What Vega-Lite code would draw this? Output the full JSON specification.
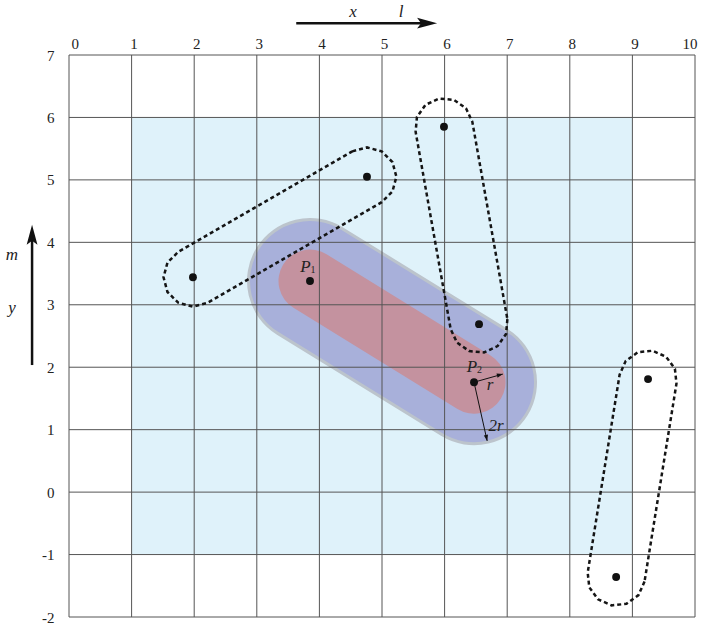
{
  "$schema": "https://vega.github.io/schema/vega-lite/v6.json",
  "width": 626,
  "height": 562,
  "autosize": {"type": "none"},
  "padding": {"left": 69, "top": 55, "right": 9, "bottom": 11},
  "background": "white",
  "config": {
    "view": {"stroke": null},
    "axis": {"ticks": false, "domain": false, "grid": false, "labelFont": "Liberation Serif", "labelFontSize": 15, "labelColor": "#222", "labelOverlap": false},
    "axisTop": {"labelPadding": 4, "labelOffset": 2, "labelFlush": true},
    "axisLeft": {"labelPadding": 15, "labelFlush": false}
  },
  "datasets": {
    "bg": [{"x1": 1, "x2": 9, "y1": -1, "y2": 6}],
    "seg": [{"x": 3.85, "y": 3.38, "i": 0}, {"x": 6.47, "y": 1.76, "i": 1}],
    "gx": [{"v": 0}, {"v": 1}, {"v": 2}, {"v": 3}, {"v": 4}, {"v": 5}, {"v": 6}, {"v": 7}, {"v": 8}, {"v": 9}, {"v": 10}],
    "gy": [{"v": -2}, {"v": -1}, {"v": 0}, {"v": 1}, {"v": 2}, {"v": 3}, {"v": 4}, {"v": 5}, {"v": 6}, {"v": 7}],
    "outline": [
      {"s": 1, "i": 0, "x": 4.525, "y": 5.457},
      {"s": 1, "i": 1, "x": 4.76, "y": 5.52},
      {"s": 1, "i": 2, "x": 4.995, "y": 5.457},
      {"s": 1, "i": 3, "x": 5.167, "y": 5.285},
      {"s": 1, "i": 4, "x": 5.23, "y": 5.05},
      {"s": 1, "i": 5, "x": 5.167, "y": 4.815},
      {"s": 1, "i": 6, "x": 4.995, "y": 4.643},
      {"s": 1, "i": 7, "x": 2.215, "y": 3.033},
      {"s": 1, "i": 8, "x": 1.98, "y": 2.97},
      {"s": 1, "i": 9, "x": 1.745, "y": 3.033},
      {"s": 1, "i": 10, "x": 1.573, "y": 3.205},
      {"s": 1, "i": 11, "x": 1.51, "y": 3.44},
      {"s": 1, "i": 12, "x": 1.573, "y": 3.675},
      {"s": 1, "i": 13, "x": 1.745, "y": 3.847},
      {"s": 1, "i": 14, "x": 4.525, "y": 5.457},
      {"s": 2, "i": 0, "x": 7.003, "y": 2.77},
      {"s": 2, "i": 1, "x": 6.982, "y": 2.533},
      {"s": 2, "i": 2, "x": 6.846, "y": 2.338},
      {"s": 2, "i": 3, "x": 6.63, "y": 2.237},
      {"s": 2, "i": 4, "x": 6.393, "y": 2.258},
      {"s": 2, "i": 5, "x": 6.198, "y": 2.394},
      {"s": 2, "i": 6, "x": 6.097, "y": 2.61},
      {"s": 2, "i": 7, "x": 5.537, "y": 5.77},
      {"s": 2, "i": 8, "x": 5.558, "y": 6.007},
      {"s": 2, "i": 9, "x": 5.694, "y": 6.202},
      {"s": 2, "i": 10, "x": 5.91, "y": 6.303},
      {"s": 2, "i": 11, "x": 6.147, "y": 6.282},
      {"s": 2, "i": 12, "x": 6.342, "y": 6.146},
      {"s": 2, "i": 13, "x": 6.443, "y": 5.93},
      {"s": 2, "i": 14, "x": 7.003, "y": 2.77},
      {"s": 3, "i": 0, "x": 9.194, "y": -1.432},
      {"s": 3, "i": 1, "x": 9.097, "y": -1.649},
      {"s": 3, "i": 2, "x": 8.905, "y": -1.789},
      {"s": 3, "i": 3, "x": 8.668, "y": -1.814},
      {"s": 3, "i": 4, "x": 8.451, "y": -1.717},
      {"s": 3, "i": 5, "x": 8.311, "y": -1.525},
      {"s": 3, "i": 6, "x": 8.286, "y": -1.288},
      {"s": 3, "i": 7, "x": 8.796, "y": 1.882},
      {"s": 3, "i": 8, "x": 8.893, "y": 2.099},
      {"s": 3, "i": 9, "x": 9.085, "y": 2.239},
      {"s": 3, "i": 10, "x": 9.322, "y": 2.264},
      {"s": 3, "i": 11, "x": 9.539, "y": 2.167},
      {"s": 3, "i": 12, "x": 9.679, "y": 1.975},
      {"s": 3, "i": 13, "x": 9.704, "y": 1.738},
      {"s": 3, "i": 14, "x": 9.194, "y": -1.432}
    ],
    "dots": [
      {"x": 1.98, "y": 3.44}, {"x": 4.76, "y": 5.05},
      {"x": 5.99, "y": 5.85}, {"x": 6.55, "y": 2.69},
      {"x": 3.85, "y": 3.38}, {"x": 6.47, "y": 1.76},
      {"x": 9.25, "y": 1.81}, {"x": 8.74, "y": -1.36}
    ],
    "arrows": [
      {"name": "r", "x": 6.47, "y": 1.76, "x2": 6.93, "y2": 1.89},
      {"name": "2r", "x": 6.47, "y": 1.76, "x2": 6.68, "y2": 0.82}
    ],
    "big": [
      {"name": "l", "x": 3.63, "y": 7.51, "x2": 5.75, "y2": 7.51, "tx": 5.88, "ty": 7.51},
      {"name": "m", "x": -0.59, "y": 2.035, "x2": -0.59, "y2": 4.15, "tx": -0.59, "ty": 4.28}
    ],
    "labels": [
      {"kind": "main", "t": "x", "x": 4.537, "y": 7.609},
      {"kind": "main", "t": "l", "x": 5.304, "y": 7.609},
      {"kind": "main", "t": "m", "x": -0.911, "y": 3.717},
      {"kind": "main", "t": "y", "x": -0.911, "y": 2.868},
      {"kind": "main", "t": "P", "x": 3.778, "y": 3.525},
      {"kind": "sub", "t": "1", "x": 3.898, "y": 3.501},
      {"kind": "main", "t": "P", "x": 6.438, "y": 1.923},
      {"kind": "sub", "t": "2", "x": 6.557, "y": 1.907},
      {"kind": "main", "t": "r", "x": 6.725, "y": 1.635},
      {"kind": "main", "t": "2r", "x": 6.821, "y": 0.978}
    ]
  },
  "layer": [
    {
      "data": {"name": "bg"},
      "mark": {"type": "rect", "fill": "#dff2fa"},
      "encoding": {
        "x": {"field": "x1", "type": "quantitative", "title": null,
          "scale": {"domain": [0, 10], "nice": false, "zero": false},
          "axis": {"orient": "top", "values": [0, 1, 2, 3, 4, 5, 6, 7, 8, 9, 10], "labelExpr": "'' + datum.value", "title": null}},
        "x2": {"field": "x2"},
        "y": {"field": "y1", "type": "quantitative", "title": null,
          "scale": {"domain": [-2, 7], "nice": false, "zero": false},
          "axis": {"orient": "left", "values": [-2, -1, 0, 1, 2, 3, 4, 5, 6, 7], "labelExpr": "'' + datum.value", "title": null}},
        "y2": {"field": "y2"}
      }
    },
    {
      "data": {"name": "seg"},
      "mark": {"type": "line", "strokeCap": "round", "strokeWidth": 126, "color": "#bcc4cc"},
      "encoding": {
        "x": {"field": "x", "type": "quantitative", "title": null},
        "y": {"field": "y", "type": "quantitative", "title": null},
        "order": {"field": "i"}
      }
    },
    {
      "data": {"name": "seg"},
      "mark": {"type": "line", "strokeCap": "round", "strokeWidth": 120, "color": "#a8b0da"},
      "encoding": {
        "x": {"field": "x", "type": "quantitative", "title": null},
        "y": {"field": "y", "type": "quantitative", "title": null},
        "order": {"field": "i"}
      }
    },
    {
      "data": {"name": "seg"},
      "mark": {"type": "line", "strokeCap": "round", "strokeWidth": 63, "color": "#c4929f"},
      "encoding": {
        "x": {"field": "x", "type": "quantitative", "title": null},
        "y": {"field": "y", "type": "quantitative", "title": null},
        "order": {"field": "i"}
      }
    },
    {
      "data": {"name": "gx"},
      "mark": {"type": "rule", "color": "#555", "strokeWidth": 1},
      "encoding": {"x": {"field": "v", "type": "quantitative", "title": null}}
    },
    {
      "data": {"name": "gy"},
      "mark": {"type": "rule", "color": "#555", "strokeWidth": 1},
      "encoding": {"y": {"field": "v", "type": "quantitative", "title": null}}
    },
    {
      "data": {"name": "outline"},
      "mark": {"type": "line", "color": "#151515", "strokeWidth": 2.5, "strokeDash": [4, 3]},
      "encoding": {
        "x": {"field": "x", "type": "quantitative", "title": null},
        "y": {"field": "y", "type": "quantitative", "title": null},
        "detail": {"field": "s"},
        "order": {"field": "i"}
      }
    },
    {
      "data": {"name": "dots"},
      "mark": {"type": "point", "filled": true, "size": 62, "color": "#111", "opacity": 1},
      "encoding": {
        "x": {"field": "x", "type": "quantitative", "title": null},
        "y": {"field": "y", "type": "quantitative", "title": null}
      }
    },
    {
      "data": {"name": "arrows"},
      "mark": {"type": "rule", "color": "#111", "strokeWidth": 1},
      "encoding": {
        "x": {"field": "x", "type": "quantitative", "title": null},
        "y": {"field": "y", "type": "quantitative", "title": null},
        "x2": {"field": "x2"},
        "y2": {"field": "y2"}
      }
    },
    {
      "data": {"name": "arrows"},
      "transform": [{"filter": "datum.name == 'r'"}],
      "mark": {"type": "point", "shape": "M0,0L-0.35,1L0.35,1Z", "size": 144, "filled": true, "color": "#111", "opacity": 1, "angle": 75},
      "encoding": {
        "x": {"field": "x2", "type": "quantitative", "title": null},
        "y": {"field": "y2", "type": "quantitative", "title": null}
      }
    },
    {
      "data": {"name": "arrows"},
      "transform": [{"filter": "datum.name == '2r'"}],
      "mark": {"type": "point", "shape": "M0,0L-0.35,1L0.35,1Z", "size": 144, "filled": true, "color": "#111", "opacity": 1, "angle": 168},
      "encoding": {
        "x": {"field": "x2", "type": "quantitative", "title": null},
        "y": {"field": "y2", "type": "quantitative", "title": null}
      }
    },
    {
      "data": {"name": "big"},
      "mark": {"type": "rule", "color": "#111", "strokeWidth": 2.5},
      "encoding": {
        "x": {"field": "x", "type": "quantitative", "title": null},
        "y": {"field": "y", "type": "quantitative", "title": null},
        "x2": {"field": "x2"},
        "y2": {"field": "y2"}
      }
    },
    {
      "data": {"name": "big"},
      "transform": [{"filter": "datum.name == 'l'"}],
      "mark": {"type": "point", "shape": "M0,0L-0.27,1L0,0.8L0.27,1Z", "size": 1600, "filled": true, "color": "#111", "opacity": 1, "angle": 90},
      "encoding": {
        "x": {"field": "tx", "type": "quantitative", "title": null},
        "y": {"field": "ty", "type": "quantitative", "title": null}
      }
    },
    {
      "data": {"name": "big"},
      "transform": [{"filter": "datum.name == 'm'"}],
      "mark": {"type": "point", "shape": "M0,0L-0.27,1L0,0.8L0.27,1Z", "size": 1600, "filled": true, "color": "#111", "opacity": 1, "angle": 0},
      "encoding": {
        "x": {"field": "tx", "type": "quantitative", "title": null},
        "y": {"field": "ty", "type": "quantitative", "title": null}
      }
    },
    {
      "data": {"name": "labels"},
      "transform": [{"filter": "datum.kind == 'main'"}],
      "mark": {"type": "text", "font": "Liberation Serif", "fontStyle": "italic", "fontSize": 17, "baseline": "alphabetic", "align": "center", "color": "#222"},
      "encoding": {
        "x": {"field": "x", "type": "quantitative", "title": null},
        "y": {"field": "y", "type": "quantitative", "title": null},
        "text": {"field": "t"}
      }
    },
    {
      "data": {"name": "labels"},
      "transform": [{"filter": "datum.kind == 'sub'"}],
      "mark": {"type": "text", "font": "Liberation Serif", "fontSize": 10, "baseline": "alphabetic", "align": "center", "color": "#222"},
      "encoding": {
        "x": {"field": "x", "type": "quantitative", "title": null},
        "y": {"field": "y", "type": "quantitative", "title": null},
        "text": {"field": "t"}
      }
    }
  ]
}
